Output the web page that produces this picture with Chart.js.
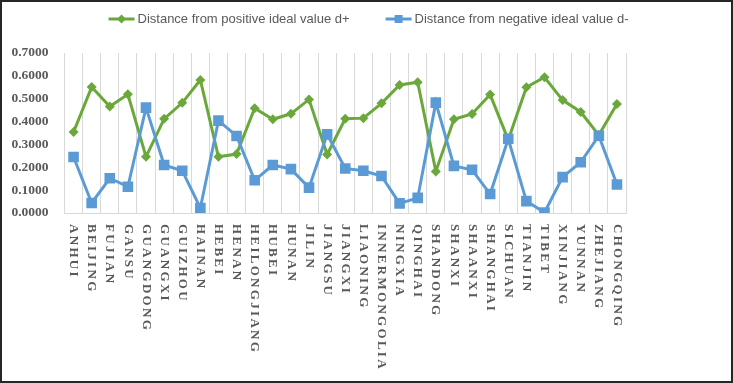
<!DOCTYPE html>
<html>
<head>
<meta charset="utf-8">
<script src="https://cdn.jsdelivr.net/npm/chart.js@4"></script>
<style>
  html, body { margin: 0; padding: 0; background: #fff; }
  #frame {
    position: absolute; left: 0; top: 0;
    width: 733px; height: 383px;
    box-sizing: border-box;
    border: 2px solid #262626;
    background: #fff;
  }
  #chart { display: block; }
</style>
</head>
<body>
<div id="frame"><canvas id="chart" width="729" height="379"></canvas></div>
<script>
const provinces = [
  "ANHUI", "BEIJING", "FUJIAN", "GANSU", "GUANGDONG", "GUANGXI", "GUIZHOU",
  "HAINAN", "HEBEI", "HENAN", "HEILONGJIANG", "HUBEI", "HUNAN", "JILIN",
  "JIANGSU", "JIANGXI", "LIAONING", "INNERMONGOLIA", "NINGXIA", "QINGHAI",
  "SHANDONG", "SHANXI", "SHAANXI", "SHANGHAI", "SICHUAN", "TIANJIN", "TIBET",
  "XINJIANG", "YUNNAN", "ZHEJIANG", "CHONGQING"
];

// d+ (green)
const dPlus = [
  0.354, 0.551, 0.466, 0.519, 0.246, 0.412, 0.482, 0.582, 0.246, 0.258,
  0.458, 0.410, 0.434, 0.497, 0.256, 0.412, 0.415, 0.480, 0.560, 0.572,
  0.182, 0.410, 0.433, 0.518, 0.320, 0.550, 0.594, 0.494, 0.442, 0.341,
  0.477
];

// d- (blue)
const dMinus = [
  0.245, 0.044, 0.152, 0.115, 0.461, 0.210, 0.185, 0.022, 0.404, 0.337,
  0.143, 0.210, 0.192, 0.111, 0.344, 0.195, 0.185, 0.162, 0.042, 0.066,
  0.483, 0.206, 0.189, 0.083, 0.325, 0.052, 0.002, 0.157, 0.222, 0.338,
  0.125
];

const yTicks = [0, 0.1, 0.2, 0.3, 0.4, 0.5, 0.6, 0.7];

const GREEN = "#6BA83C";
const BLUE = "#5B9BD5";
const TEXT = "#595959";

// legend: line + marker + label, centred above the plot
const legendPlugin = {
  id: "lineLegend",
  afterDraw(chart) {
    const ctx = chart.ctx;
    const y = 17;
    const lineW = 26;
    const gap = 3;
    const between = 36;
    ctx.save();
    ctx.font = '13px "Liberation Sans", Arial, sans-serif';
    const items = chart.data.datasets.map((ds) => ({
      ds,
      w: lineW + gap + ctx.measureText(ds.label).width,
    }));
    const total = items.reduce((s, it) => s + it.w, 0) + between * (items.length - 1);
    let x = 366.5 - total / 2;
    items.forEach(({ ds, w }) => {
      ctx.strokeStyle = ds.borderColor;
      ctx.lineWidth = 3;
      ctx.beginPath();
      ctx.moveTo(x, y);
      ctx.lineTo(x + lineW, y);
      ctx.stroke();
      ctx.fillStyle = ds.borderColor;
      ctx.beginPath();
      const cx = x + lineW / 2;
      if (ds.pointStyle === "rectRot") {
        ctx.moveTo(cx, y - 4.5);
        ctx.lineTo(cx + 4.5, y);
        ctx.lineTo(cx, y + 4.5);
        ctx.lineTo(cx - 4.5, y);
        ctx.closePath();
      } else {
        ctx.rect(cx - 4, y - 4, 8, 8);
      }
      ctx.fill();
      ctx.fillStyle = TEXT;
      ctx.textAlign = "left";
      ctx.textBaseline = "middle";
      ctx.fillText(ds.label, x + lineW + gap, y + 0.5);
      x += w + between;
    });
    ctx.restore();
  },
};

// vertical category labels, reading top to bottom
const xLabelPlugin = {
  id: "xLabels",
  afterDraw(chart) {
    const ctx = chart.ctx;
    const x = chart.scales.x;
    const top = chart.chartArea.bottom + 11;
    ctx.save();
    ctx.fillStyle = TEXT;
    ctx.font = 'bold 13px "Liberation Serif", "Times New Roman", serif';
    ctx.letterSpacing = "2.3px";
    ctx.textAlign = "left";
    ctx.textBaseline = "middle";
    provinces.forEach((name, i) => {
      ctx.save();
      ctx.translate(x.getPixelForValue(i), top);
      ctx.rotate(Math.PI / 2);
      ctx.fillText(name, 0, 0);
      ctx.restore();
    });
    ctx.restore();
  },
};

new Chart(document.getElementById("chart"), {
  type: "line",
  data: {
    labels: provinces,
    datasets: [
      {
        label: "Distance from positive ideal value d+",
        data: dPlus,
        borderColor: GREEN,
        backgroundColor: GREEN,
        borderWidth: 3,
        pointStyle: "rectRot",
        pointRadius: 5,
        pointBorderWidth: 0,
        tension: 0,
        order: 1,
      },
      {
        label: "Distance from negative ideal value d-",
        data: dMinus,
        borderColor: BLUE,
        backgroundColor: BLUE,
        borderWidth: 3,
        pointStyle: "rect",
        pointRadius: 7.5,
        pointBorderWidth: 0,
        tension: 0,
        order: 0,
      },
    ],
  },
  options: {
    responsive: false,
    animation: false,
    layout: {
      padding: { top: 51, right: 105, bottom: 168, left: 0 },
    },
    plugins: {
      legend: { display: false },
      tooltip: { enabled: false },
    },
    scales: {
      x: {
        offset: true,
        grid: {
          display: true,
          offset: true,
          color: "#D9D9D9",
          lineWidth: 1,
          drawTicks: false,
        },
        border: { display: true, color: "#D9D9D9", width: 1 },
        ticks: { display: false },
      },
      y: {
        min: 0,
        max: 0.7,
        afterFit(scale) {
          scale.width = 62.5;
        },
        afterBuildTicks(scale) {
          scale.ticks = yTicks.map((v) => ({ value: v }));
        },
        grid: { display: false, drawTicks: false },
        border: { display: false },
        ticks: {
          color: TEXT,
          padding: 16,
          font: { family: '"Liberation Serif", "Times New Roman", serif', size: 13.5, weight: "bold" },
          callback: (v) => v.toFixed(4),
        },
      },
    },
  },
  plugins: [xLabelPlugin, legendPlugin],
});
</script>
</body>
</html>
